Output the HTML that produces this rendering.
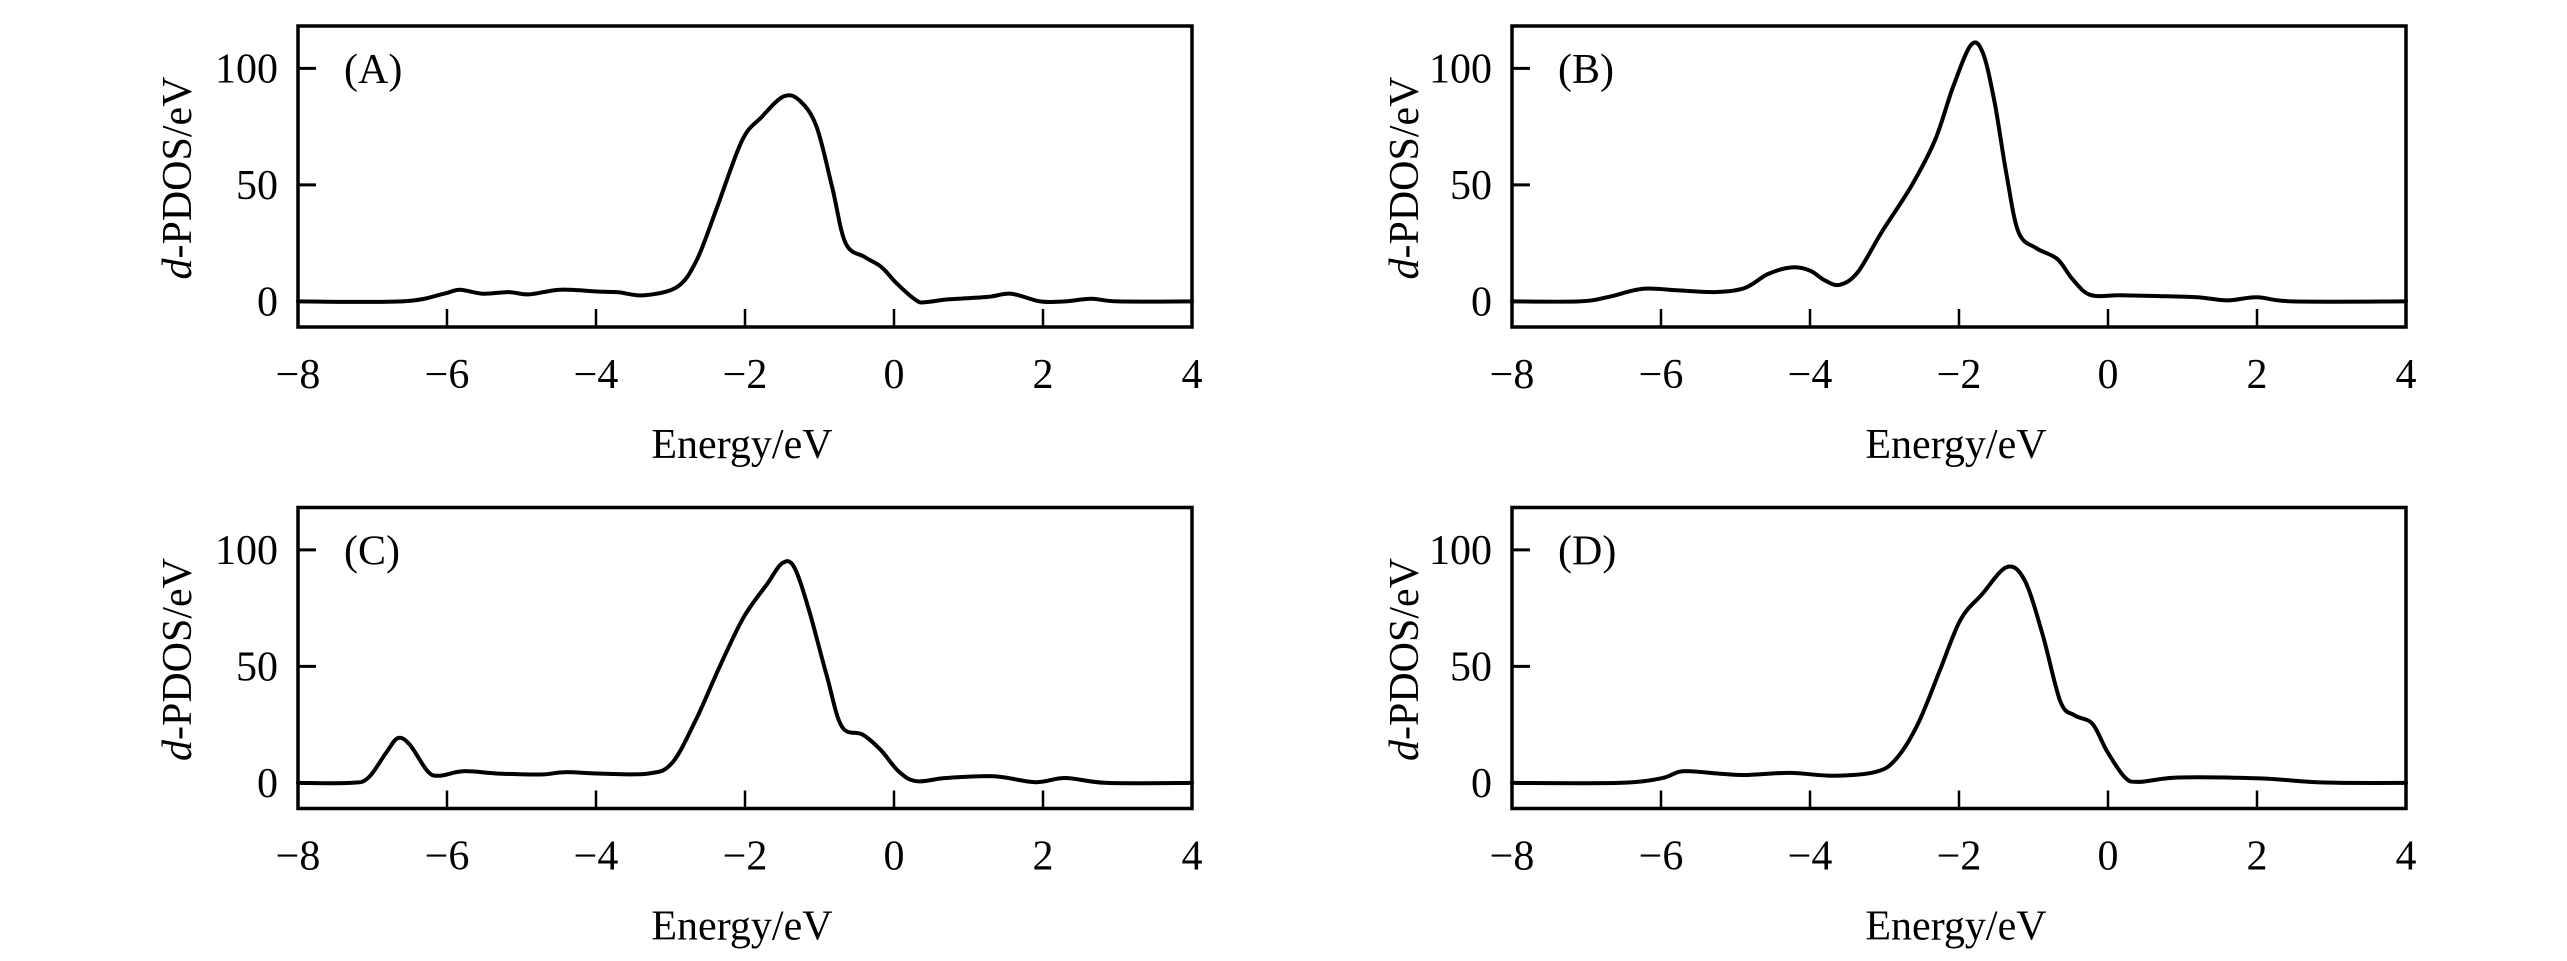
<!DOCTYPE html>
<html><head><meta charset="utf-8"><style>
html,body{margin:0;padding:0;background:#fff;}
svg{display:block;}
text{font-family:"Liberation Serif","Times New Roman",serif;fill:#000;}
</style></head>
<body>
<svg id="fig" width="2567" height="961" viewBox="0 0 2567 961" xmlns="http://www.w3.org/2000/svg"></svg>
<script>
const xTicks = [-8, -6, -4, -2, 0, 2, 4];
const yTicks = [0, 50, 100];
const panelLabels = ["(A)", "(B)", "(C)", "(D)"];
const energyA = [-8,-6.6,-6.04,-5.83,-5.52,-5.17,-4.9,-4.48,-3.96,-3.7,-3.35,-2.91,-2.65,-2.39,-2.04,-1.78,-1.48,-1.26,-1.04,-0.83,-0.65,-0.39,-0.17,0.04,0.3,0.43,0.74,1.26,1.57,1.96,2.3,2.65,3.0,4];
const dosA    = [0,0,3.3,5,3.3,4,3,5,4.2,3.9,2.6,6.2,17.6,39,69,79,88,86,75,49,25,19,14.8,7.6,0.4,-0.3,0.9,1.9,3.3,0,0,1.1,0,0];
const energyB = [-8,-7.1,-6.72,-6.24,-5.76,-5.28,-4.88,-4.56,-4.24,-4.0,-3.8,-3.6,-3.36,-3.04,-2.64,-2.32,-2.08,-1.84,-1.68,-1.52,-1.36,-1.2,-0.96,-0.68,-0.48,-0.24,0.16,0.64,1.2,1.6,2.0,2.48,4];
const dosB    = [0,0,1.8,5.4,4.7,4,5.7,11.8,14.6,13.2,9,7.1,12.5,29.6,49.5,69.4,92,110,106.7,85,54,29.6,22.8,18.2,9.7,2.8,2.6,2.3,1.8,0.4,1.8,0,0];
const energyC = [-8,-7.3,-7.06,-6.82,-6.66,-6.5,-6.26,-6.1,-5.78,-5.3,-4.74,-4.42,-3.94,-3.3,-2.98,-2.66,-2.34,-2.02,-1.7,-1.5,-1.34,-1.14,-0.9,-0.7,-0.42,-0.18,0.06,0.3,0.7,1.34,1.9,2.3,2.86,4];
const dosC    = [0,0,2.1,12.8,19.2,16.4,5,3.1,5,4,3.6,4.6,4,4,8.5,27,49.9,71,85.5,94.3,92.6,74,45.6,24.2,20.7,14.2,5,0.7,2.1,2.8,0.3,2.1,0,0];
const energyD = [-8,-6.57,-5.99,-5.71,-5.23,-4.85,-4.27,-3.7,-3.12,-2.84,-2.55,-2.26,-1.98,-1.69,-1.36,-1.12,-0.88,-0.64,-0.45,-0.21,-0.02,0.22,0.41,0.94,2.04,2.71,3.19,4];
const dosD    = [0,0,2,5,4,3.4,4.3,3.1,4.7,10.4,25.4,48,70,81,92.6,87,64,35,29,25.4,14,2.6,0.4,2.3,1.9,0.4,0,0];

const NS = "http://www.w3.org/2000/svg";
const svg = document.getElementById("fig");
const panels = [
  {left:298, top:26, title:177, lab:panelLabels[0], ex:energyA, ey:dosA, name:"a"},
  {left:1512, top:26, title:1404, lab:panelLabels[1], ex:energyB, ey:dosB, name:"b"},
  {left:298, top:507.5, title:177, lab:panelLabels[2], ex:energyC, ey:dosC, name:"c"},
  {left:1512, top:507.5, title:1404, lab:panelLabels[3], ex:energyD, ey:dosD, name:"d"}
];
const W = 894, H = 301, XMIN = -8, XMAX = 4, YMIN = -11, YMAX = 118.2;
function mk(tag, attrs, parent){
  const e = document.createElementNS(NS, tag);
  for (const k in attrs) e.setAttribute(k, attrs[k]);
  parent.appendChild(e);
  return e;
}
function smoothPath(pts){
  let d = "M" + pts[0][0].toFixed(1) + "," + pts[0][1].toFixed(1);
  for (let i = 0; i < pts.length - 1; i++) {
    const p0 = pts[Math.max(0, i-1)], p1 = pts[i], p2 = pts[i+1], p3 = pts[Math.min(pts.length-1, i+2)];
    const t = 1/6;
    const c1x = p1[0] + (p2[0]-p0[0])*t, c1y = p1[1] + (p2[1]-p0[1])*t;
    const c2x = p2[0] - (p3[0]-p1[0])*t, c2y = p2[1] - (p3[1]-p1[1])*t;
    d += "C" + c1x.toFixed(1) + "," + c1y.toFixed(1) + " " + c2x.toFixed(1) + "," + c2y.toFixed(1) + " " + p2[0].toFixed(1) + "," + p2[1].toFixed(1);
  }
  return d;
}
panels.forEach(p => {
  const g = mk("g", {}, svg);
  
  
  const sx = v => p.left + (v - XMIN) / (XMAX - XMIN) * W;
  const sy = v => p.top + (YMAX - v) / (YMAX - YMIN) * H;
  const pts = p.ex.map((x, i) => [sx(x), sy(p.ey[i])]);
  const path = mk("path", {d:smoothPath(pts), fill:"none", stroke:"#000", "stroke-width":"4", "stroke-linejoin":"round", "stroke-linecap":"round"}, g);
  
  
  const fr = mk("rect", {x:p.left, y:p.top, width:W, height:H, fill:"none", stroke:"#000", "stroke-width":"3.5"}, g);
  
  
  xTicks.forEach(t => {
    const X = sx(t);
    if (t !== XMIN && t !== XMAX) {
      const tk = mk("line", {x1:X, x2:X, y1:p.top+H, y2:p.top+H-18, stroke:"#000", "stroke-width":"2.5"}, g);
      
      
    }
    const tl = mk("text", {x:X, y:p.top+H+61, "font-size":"42", "text-anchor":"middle"}, g);
    tl.textContent = (t < 0 ? "\u2212" + (-t) : String(t));
    
    
  });
  yTicks.forEach(t => {
    const Y = sy(t);
    const tk = mk("line", {x1:p.left, x2:p.left+18, y1:Y, y2:Y, stroke:"#000", "stroke-width":"3"}, g);
    
    
    const tl = mk("text", {x:p.left-20, y:Y+14, "font-size":"42", "text-anchor":"end"}, g);
    tl.textContent = String(t);
    
    
  });
  const pl = mk("text", {x:p.left+46, y:p.top+57, "font-size":"42"}, g);
  pl.textContent = p.lab;
  
  
  const xt = mk("text", {x:p.left+W/2-3, y:p.top+H+131, "font-size":"42", "text-anchor":"middle"}, g);
  xt.textContent = "Energy/eV";
  
  
  const cy = p.top + 152;
  const yt = mk("text", {x:p.title+14, y:cy, "font-size":"42", "text-anchor":"middle", transform:"rotate(-90 " + (p.title+14) + " " + cy + ")"}, g);
  
  
  const it = mk("tspan", {"font-style":"italic"}, yt);
  it.textContent = "d";
  const rest = mk("tspan", {}, yt);
  rest.textContent = "-PDOS/eV";
});
</script>
</body></html>
